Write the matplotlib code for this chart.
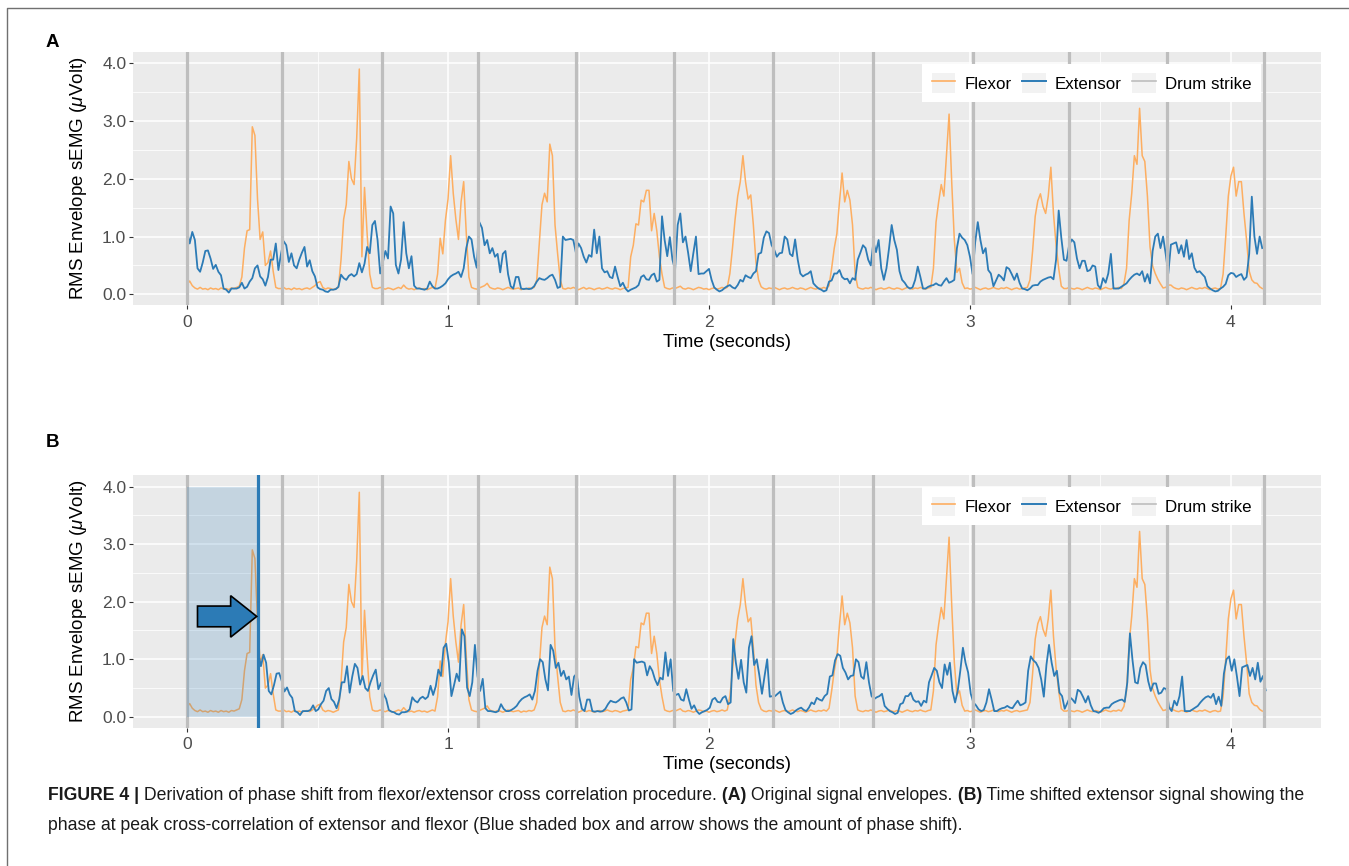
import numpy as np
import matplotlib.pyplot as plt
from matplotlib.patches import Rectangle, FancyArrow
from matplotlib.lines import Line2D
from matplotlib.legend_handler import HandlerLine2D

# RMS envelopes, one value every 0.01 s
dt = 0.01
flexor = [
    0.17, 0.23, 0.15, 0.11, 0.09, 0.12, 0.09, 0.10, 0.08, 0.11,
    0.09, 0.10, 0.08, 0.11, 0.09, 0.10, 0.08, 0.11, 0.10, 0.12,
    0.14, 0.30, 0.80, 1.10, 1.12, 2.90, 2.75, 1.65, 0.95, 1.08,
    0.50, 0.55, 0.75, 0.40, 0.12, 0.10, 0.10, 0.12, 0.09, 0.10,
    0.08, 0.11, 0.09, 0.10, 0.08, 0.10, 0.11, 0.09, 0.12, 0.15,
    0.20, 0.22, 0.12, 0.09, 0.11, 0.10, 0.08, 0.10, 0.12, 0.60,
    1.30, 1.55, 2.30, 2.00, 1.90, 2.70, 3.90, 0.65, 1.85, 1.05,
    0.35, 0.12, 0.10, 0.10, 0.12, 0.10, 0.09, 0.11, 0.10, 0.08,
    0.10, 0.12, 0.10, 0.16, 0.11, 0.09, 0.10, 0.08, 0.10, 0.11,
    0.09, 0.10, 0.08, 0.10, 0.12, 0.10, 0.35, 0.97, 0.70, 1.28,
    1.65, 2.40, 1.75, 1.30, 0.95, 1.60, 1.95, 1.05, 0.30, 0.12,
    0.10, 0.09, 0.11, 0.13, 0.15, 0.19, 0.12, 0.10, 0.09, 0.11,
    0.10, 0.08, 0.10, 0.12, 0.10, 0.09, 0.10, 0.11, 0.08, 0.10,
    0.09, 0.11, 0.10, 0.12, 0.25, 0.90, 1.55, 1.75, 1.60, 2.60,
    2.40, 1.20, 0.70, 0.25, 0.10, 0.09, 0.11, 0.10, 0.12, 0.10,
    0.08, 0.10, 0.12, 0.09, 0.11, 0.10, 0.08, 0.10, 0.11, 0.09,
    0.10, 0.12, 0.10, 0.09, 0.11, 0.10, 0.08, 0.10, 0.11, 0.12,
    0.65, 0.85, 1.22, 1.20, 1.63, 1.60, 1.80, 1.80, 1.10, 1.40,
    1.10, 0.65, 0.35, 0.12, 0.10, 0.09, 0.11, 0.10, 0.12, 0.14,
    0.10, 0.09, 0.11, 0.10, 0.08, 0.10, 0.12, 0.11, 0.09, 0.10,
    0.08, 0.10, 0.11, 0.09, 0.10, 0.12, 0.10, 0.12, 0.36, 0.80,
    1.30, 1.70, 1.95, 2.40, 1.95, 1.65, 1.72, 1.20, 0.55, 0.25,
    0.13, 0.10, 0.09, 0.11, 0.10, 0.12, 0.10, 0.08, 0.10, 0.11,
    0.09, 0.10, 0.12, 0.10, 0.09, 0.11, 0.10, 0.08, 0.10, 0.12,
    0.10, 0.09, 0.11, 0.10, 0.12, 0.10, 0.15, 0.45, 0.80, 1.05,
    1.60, 2.10, 1.60, 1.80, 1.63, 1.20, 0.36, 0.12, 0.10, 0.09,
    0.11, 0.10, 0.12, 0.10, 0.08, 0.10, 0.11, 0.09, 0.10, 0.12,
    0.10, 0.09, 0.11, 0.10, 0.08, 0.10, 0.12, 0.10, 0.09, 0.11,
    0.10, 0.12, 0.10, 0.09, 0.11, 0.12, 0.45, 1.25, 1.60, 1.90,
    1.70, 2.40, 3.12, 1.95, 0.95, 0.38, 0.45, 0.20, 0.10, 0.11,
    0.09, 0.10, 0.12, 0.10, 0.08, 0.10, 0.11, 0.09, 0.10, 0.12,
    0.10, 0.09, 0.11, 0.10, 0.12, 0.10, 0.08, 0.10, 0.11, 0.09,
    0.10, 0.11, 0.12, 0.25, 0.75, 1.35, 1.62, 1.74, 1.52, 1.40,
    1.70, 2.20, 1.40, 0.85, 0.45, 0.14, 0.10, 0.10, 0.12, 0.10,
    0.09, 0.11, 0.10, 0.08, 0.10, 0.12, 0.10, 0.09, 0.11, 0.10,
    0.08, 0.10, 0.12, 0.10, 0.09, 0.11, 0.10, 0.12, 0.10, 0.18,
    0.45, 1.28, 1.75, 2.40, 2.25, 3.22, 2.40, 2.30, 1.70, 0.82,
    0.49, 0.36, 0.26, 0.18, 0.11, 0.12, 0.16, 0.16, 0.12, 0.10,
    0.09, 0.11, 0.10, 0.08, 0.10, 0.12, 0.10, 0.09, 0.11, 0.10,
    0.12, 0.10, 0.08, 0.10, 0.11, 0.09, 0.10, 0.35, 1.00, 1.70,
    2.05, 2.20, 1.70, 1.95, 1.95, 1.40, 0.94, 0.40, 0.25, 0.20,
    0.19, 0.13, 0.10,
]
extensor = [
    1.10, 0.88, 1.08, 0.94, 0.45, 0.39, 0.55, 0.75, 0.76, 0.62,
    0.44, 0.51, 0.39, 0.33, 0.10, 0.08, 0.03, 0.10, 0.10, 0.10,
    0.12, 0.20, 0.10, 0.13, 0.22, 0.28, 0.45, 0.50, 0.31, 0.26,
    0.15, 0.30, 0.60, 0.60, 0.88, 0.42, 0.70, 0.92, 0.85, 0.56,
    0.71, 0.50, 0.45, 0.60, 0.72, 0.82, 0.48, 0.59, 0.40, 0.31,
    0.12, 0.09, 0.08, 0.05, 0.04, 0.08, 0.08, 0.09, 0.13, 0.34,
    0.28, 0.25, 0.32, 0.35, 0.31, 0.35, 0.54, 0.38, 0.53, 0.82,
    0.71, 1.20, 1.27, 0.94, 0.36, 0.55, 0.75, 0.62, 1.52, 1.40,
    0.51, 0.36, 0.60, 1.25, 0.71, 0.45, 0.66, 0.15, 0.10, 0.10,
    0.09, 0.08, 0.10, 0.22, 0.14, 0.10, 0.10, 0.12, 0.15, 0.19,
    0.26, 0.31, 0.34, 0.36, 0.39, 0.30, 0.45, 0.80, 1.00, 0.95,
    0.65, 0.46, 1.25, 1.15, 0.85, 0.94, 0.71, 0.80, 0.65, 0.70,
    0.38, 0.70, 0.75, 0.35, 0.14, 0.10, 0.30, 0.30, 0.10, 0.09,
    0.10, 0.09, 0.10, 0.14, 0.22, 0.28, 0.26, 0.25, 0.28, 0.32,
    0.34, 0.25, 0.11, 0.13, 1.00, 0.94, 0.95, 0.96, 0.94, 0.72,
    0.88, 0.80, 0.65, 0.55, 0.68, 0.65, 1.12, 0.71, 1.00, 0.45,
    0.38, 0.40, 0.30, 0.28, 0.48, 0.30, 0.14, 0.20, 0.10, 0.05,
    0.08, 0.10, 0.12, 0.16, 0.30, 0.33, 0.26, 0.25, 0.33, 0.36,
    0.22, 0.25, 1.35, 0.94, 0.66, 0.99, 0.60, 0.42, 1.20, 1.40,
    0.90, 1.00, 0.72, 0.40, 0.71, 1.00, 0.35, 0.36, 0.36, 0.40,
    0.44, 0.25, 0.12, 0.08, 0.05, 0.07, 0.11, 0.14, 0.16, 0.12,
    0.10, 0.16, 0.25, 0.22, 0.33, 0.30, 0.28, 0.36, 0.40, 0.70,
    0.72, 0.98, 1.09, 1.06, 0.85, 0.77, 0.65, 0.71, 0.72, 1.00,
    0.95, 0.70, 0.66, 0.95, 0.60, 0.36, 0.31, 0.34, 0.36, 0.40,
    0.19, 0.14, 0.10, 0.08, 0.05, 0.07, 0.22, 0.24, 0.36, 0.36,
    0.42, 0.30, 0.26, 0.27, 0.19, 0.28, 0.25, 0.60, 0.72, 0.85,
    0.80, 0.60, 0.50, 0.91, 0.73, 0.94, 0.45, 0.25, 0.45, 0.80,
    1.20, 0.94, 0.77, 0.40, 0.25, 0.20, 0.13, 0.10, 0.12, 0.25,
    0.48, 0.30, 0.10, 0.10, 0.13, 0.15, 0.16, 0.19, 0.16, 0.15,
    0.22, 0.28, 0.20, 0.22, 0.25, 0.80, 1.05, 0.98, 0.94, 0.85,
    0.65, 0.35, 0.90, 1.25, 0.94, 0.71, 0.80, 0.42, 0.36, 0.14,
    0.24, 0.34, 0.30, 0.24, 0.47, 0.44, 0.35, 0.25, 0.36, 0.20,
    0.10, 0.09, 0.07, 0.10, 0.15, 0.16, 0.16, 0.22, 0.25, 0.27,
    0.29, 0.30, 0.26, 0.60, 1.45, 0.98, 0.60, 0.58, 0.85, 0.95,
    0.90, 0.62, 0.45, 0.58, 0.58, 0.40, 0.42, 0.50, 0.48, 0.16,
    0.10, 0.28, 0.20, 0.36, 0.70, 0.10, 0.10, 0.10, 0.13, 0.16,
    0.19, 0.25, 0.30, 0.34, 0.36, 0.33, 0.40, 0.22, 0.35, 0.19,
    0.75, 1.00, 1.05, 0.80, 1.00, 0.70, 0.36, 0.86, 0.88, 0.90,
    0.71, 0.85, 0.65, 0.94, 0.61, 0.71, 0.46, 0.38, 0.40, 0.35,
    0.30, 0.14, 0.10, 0.07, 0.05, 0.06, 0.10, 0.13, 0.18, 0.33,
    0.37, 0.36, 0.30, 0.33, 0.35, 0.25, 0.30, 0.70, 1.69, 1.00,
    0.70, 1.00, 0.80,
]
drum_strikes = [0.0, 0.363, 0.748, 1.114, 1.490, 1.866,
                2.244, 2.627, 3.013, 3.379, 3.754, 4.128]
phase_shift = 0.273
box_top = 4.0

x_ticks = [0, 1, 2, 3, 4]
y_ticks = [0.0, 1.0, 2.0, 3.0, 4.0]

FLEX = '#FDAE61'
EXT = '#2C7BB6'
DRUM = '#BEBEBE'

plt.rcParams['font.family'] = ['Liberation Sans', 'DejaVu Sans']
plt.rcParams['mathtext.fontset'] = 'custom'
plt.rcParams['mathtext.rm'] = 'Liberation Sans'
plt.rcParams['mathtext.it'] = 'Liberation Sans:italic'

t = np.arange(len(flexor)) * dt
flexor = np.array(flexor)
extensor = np.array(extensor)

W, H = 1349, 866
fig = plt.figure(figsize=(W / 100, H / 100), dpi=100)


def px_axes(left, top, right, bottom):
    return fig.add_axes([left / W, 1 - bottom / H, (right - left) / W, (bottom - top) / H])


class KeyHandler(HandlerLine2D):
    # ggplot-like legend key: grey square behind the line
    def create_artists(self, legend, orig_handle, xdescent, ydescent, width, height, fontsize, trans):
        bg = Rectangle((-xdescent, -ydescent), width, height, facecolor='#F2F2F2',
                       edgecolor='none', transform=trans)
        arts = super().create_artists(legend, orig_handle, xdescent, ydescent, width, height, fontsize, trans)
        return [bg] + arts


def style(ax):
    ax.set_facecolor('#EBEBEB')
    for s in ax.spines.values():
        s.set_visible(False)
    ax.set_xlim(-0.206, 4.344)
    ax.set_ylim(-0.185, 4.2)
    ax.set_xticks(x_ticks)
    ax.set_xticklabels([str(v) for v in x_ticks])
    ax.set_xticks([0.5, 1.5, 2.5, 3.5], minor=True)
    ax.set_yticks(y_ticks)
    ax.set_yticklabels([f'{v:.1f}' for v in y_ticks])
    ax.set_yticks([0.5, 1.5, 2.5, 3.5], minor=True)
    ax.grid(which='major', color='white', lw=1.1)
    ax.grid(which='minor', color='white', lw=0.55)
    ax.set_axisbelow(True)
    ax.tick_params(which='major', length=3, width=0.8, color='#333333',
                   labelcolor='#4D4D4D', labelsize=12.5, pad=2)
    ax.tick_params(axis='x', which='major', pad=4)
    ax.tick_params(which='minor', length=0)
    ax.set_xlabel('Time (seconds)', fontsize=13.5)
    ax.set_ylabel(r'RMS Envelope sEMG ($\mathit{\mu}$Volt)', fontsize=13.5)
    ax.yaxis.set_label_coords(-0.037, 0.5)
    ax.xaxis.set_label_coords(0.5, -0.114)
    for d in drum_strikes:
        ax.axvline(d, color=DRUM, lw=2.3, zorder=4)
    handles = [Line2D([], [], color=FLEX, lw=1.2, label='Flexor'),
               Line2D([], [], color=EXT, lw=1.4, label='Extensor'),
               Line2D([], [], color=DRUM, lw=1.2, label='Drum strike')]
    leg = ax.legend(handles=handles, ncol=3, loc='upper right', bbox_to_anchor=(0.9497, 0.9514),
                    borderaxespad=0, fontsize=12.2, handlelength=1.4, handleheight=1.4,
                    handletextpad=0.55, columnspacing=0.6, borderpad=0.55,
                    frameon=True, fancybox=False, facecolor='white', edgecolor='none', framealpha=1,
                    handler_map={Line2D: KeyHandler()})
    leg.set_zorder(10)


ax_a = px_axes(133.3, 51.7, 1320.7, 305)
ax_b = px_axes(133.3, 475, 1320.7, 727.5)

# A: original envelopes
style(ax_a)
ax_a.plot(t, flexor, color=FLEX, lw=1.1, zorder=2)
ax_a.plot(t, extensor, color=EXT, lw=1.3, zorder=3)

# B: extensor shifted by the phase at peak cross-correlation
style(ax_b)
tb = t + phase_shift
keep = tb <= drum_strikes[-1] + 0.005
ax_b.plot(t, flexor, color=FLEX, lw=1.1, zorder=2)
ax_b.plot(tb[keep], extensor[keep], color=EXT, lw=1.3, zorder=3)
ax_b.add_patch(Rectangle((0, 0), phase_shift, box_top, facecolor=EXT, alpha=0.2,
                         edgecolor='none', zorder=5))
ax_b.axvline(phase_shift, color=EXT, lw=2.3, zorder=6)
ax_b.add_patch(FancyArrow(0.04, 1.744, 0.127, 0, width=0.36, head_width=0.72,
                          head_length=0.10, length_includes_head=False,
                          facecolor=EXT, edgecolor='black', lw=1.2, zorder=7))

# panel letters
fig.text(45.7 / W, 1 - 46.7 / H, 'A', fontsize=13.5, weight='bold', va='baseline')
fig.text(45.7 / W, 1 - 446.7 / H, 'B', fontsize=13.5, weight='bold', va='baseline')

# outer frame (left and top edges)
fig.add_artist(Line2D([7.3 / W, 7.3 / W, 1], [0, 1 - 8.3 / H, 1 - 8.3 / H],
                      transform=fig.transFigure, color='#707070', lw=1.0))

# caption
cax = fig.add_axes([0, 0, 1, 1])
cax.axis('off')
cap_size = 12.7
line1 = [('FIGURE 4 |', 'bold'),
         (' Derivation of phase shift from flexor/extensor cross correlation procedure.', 'normal'),
         (' (A)', 'bold'),
         (' Original signal envelopes.', 'normal'),
         (' (B)', 'bold'),
         (' Time shifted extensor signal showing the', 'normal')]
prev = cax.text(48 / W, 1 - 800 / H, line1[0][0], fontsize=cap_size, weight=line1[0][1],
                color='#1A1A1A', va='baseline')
for txt, wt in line1[1:]:
    prev = cax.annotate(txt, xy=(1, 0), xycoords=prev, va='bottom', ha='left',
                        fontsize=cap_size, weight=wt, color='#1A1A1A')
cax.text(48 / W, 1 - 830 / H,
         'phase at peak cross-correlation of extensor and flexor '
         '(Blue shaded box and arrow shows the amount of phase shift).',
         fontsize=cap_size, color='#1A1A1A', va='baseline')

fig.savefig('out.png', dpi=100)
